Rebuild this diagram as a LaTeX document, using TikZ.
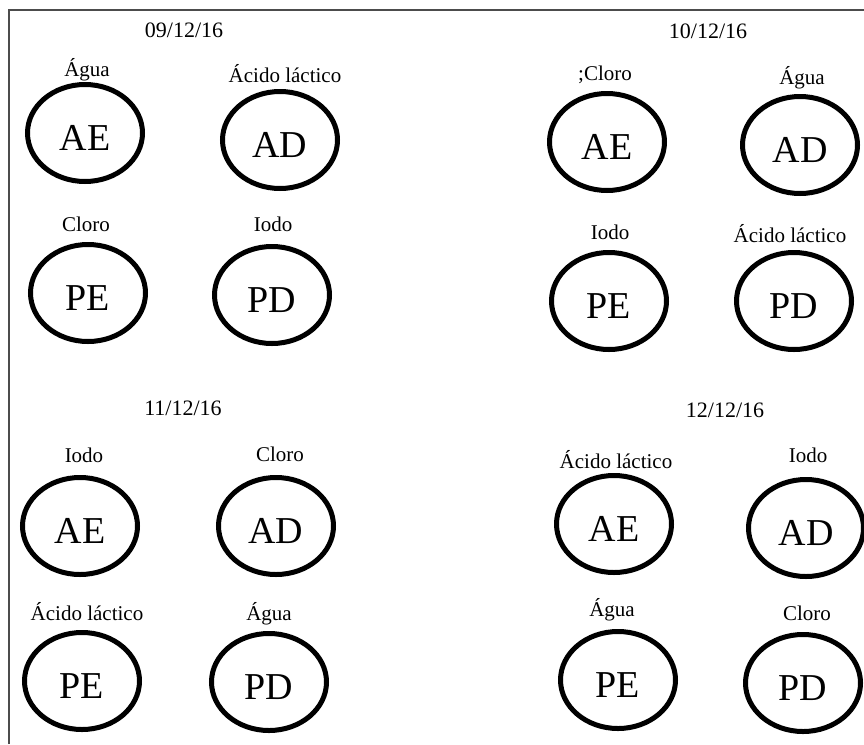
\documentclass[tikz,border=0pt]{standalone}
\usepackage{fontspec}
\setmainfont{Liberation Serif}
\usepackage{tikz}
\usetikzlibrary{shapes.geometric}
\tikzstyle{side} = [
    ellipse,
    minimum width=115pt,
    minimum height=97pt,
    inner sep=0pt,
    line width=5pt,
    draw=black,
    text height=34pt,
    text depth=0pt,
    font=\fontsize{38}{40}\selectfont
]
\tikzstyle{product} = [
    inner sep=0pt,
    font=\fontsize{21}{24}\selectfont
]
\tikzstyle{day} = [
    inner sep=0pt,
    font=\fontsize{22}{25}\selectfont
]
\tikzstyle{frame} = [line width=1.3pt, draw=black!70]

\begin{document}
\begin{tikzpicture}[x=1pt, y=-1pt]

\useasboundingbox (0,0) rectangle (864,744);
\fill[white] (0,0) rectangle (864,744);
\draw [frame] (9,744) -- (9,10) -- (864,10);

% 09/12/16
\node (day1) [day] at (184,30) {09/12/16};
\node (ae1) [side] at (85,133) {AE};
\node (ad1) [side] at (280,140) {AD};
\node (pe1) [side] at (88,293) {PE};
\node (pd1) [side] at (272,295) {PD};
\node (lae1) [product] at (87,70) {Água};
\node (lad1) [product] at (285,74) {Ácido láctico};
\node (lpe1) [product] at (86,224) {Cloro};
\node (lpd1) [product] at (273,224) {Iodo};

% 10/12/16
\node (day2) [day] at (708,31) {10/12/16};
\node (ae2) [side] at (607,142) {AE};
\node (ad2) [side] at (800,145) {AD};
\node (pe2) [side] at (609,301) {PE};
\node (pd2) [side] at (794,301) {PD};
\node (lae2) [product] at (605,75) {;Cloro};
\node (lad2) [product] at (802,78) {Água};
\node (lpe2) [product] at (610,232) {Iodo};
\node (lpd2) [product] at (790,234) {Ácido láctico};

% 11/12/16
\node (day3) [day] at (183,408) {11/12/16};
\node (ae3) [side] at (80,526) {AE};
\node (ad3) [side] at (276,526) {AD};
\node (pe3) [side] at (82,681) {PE};
\node (pd3) [side] at (269,682) {PD};
\node (lae3) [product] at (84,455) {Iodo};
\node (lad3) [product] at (280,454) {Cloro};
\node (lpe3) [product] at (87,612) {Ácido láctico};
\node (lpd3) [product] at (269,614) {Água};

% 12/12/16
\node (day4) [day] at (725,410) {12/12/16};
\node (ae4) [side] at (614,524) {AE};
\node (ad4) [side] at (806,528) {AD};
\node (pe4) [side] at (618,680) {PE};
\node (pd4) [side] at (803,683) {PD};
\node (lae4) [product] at (616,460) {Ácido láctico};
\node (lad4) [product] at (808,455) {Iodo};
\node (lpe4) [product] at (612,610) {Água};
\node (lpd4) [product] at (807,613) {Cloro};

\end{tikzpicture}
\end{document}
